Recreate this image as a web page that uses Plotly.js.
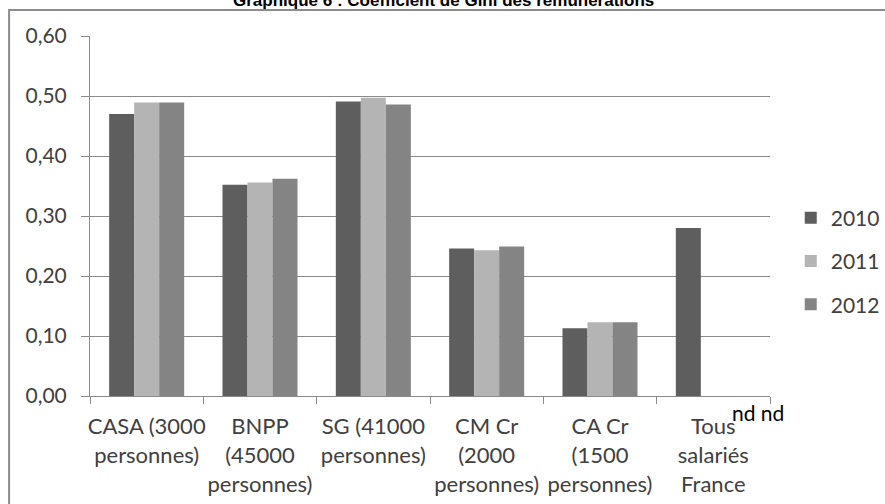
<!DOCTYPE html>
<html>
<head>
<meta charset="utf-8">
<script src="https://cdn.plot.ly/plotly-3.0.1.min.js"></script>
<style>
  html, body { margin: 0; padding: 0; background: #ffffff; }
  #chart { width: 885px; height: 504px; }
</style>
</head>
<body>
<div id="chart"></div>
<script>
// Gini coefficient of pay, by group and year
const categories = [
  "CASA (3000<br>personnes)",
  "BNPP<br>(45000<br>personnes)",
  "SG (41000<br>personnes)",
  "CM Cr<br>(2000<br>personnes)",
  "CA Cr<br>(1500<br>personnes)",
  "Tous<br>salariés<br>France"
];
const years = ["2010", "2011", "2012"];
const gini2010 = [0.470, 0.352, 0.491, 0.246, 0.113, 0.280];
const gini2011 = [0.489, 0.356, 0.497, 0.243, 0.123, null];
const gini2012 = [0.489, 0.362, 0.486, 0.249, 0.123, null];
const yTicks = [0, 0.1, 0.2, 0.3, 0.4, 0.5, 0.6];

const barColors = ["#5e5e5e", "#b4b4b4", "#848484"];
const series = [gini2010, gini2011, gini2012];

const labelFont = { family: "Lato, 'Open Sans', sans-serif", size: 21, color: "#404040" };
const catFont = { family: "Lato, 'Open Sans', sans-serif", size: 22, color: "#404040" };
const lineGrey = "#8a8a8a";

const traces = series.map((vals, i) => ({
  type: "bar",
  name: years[i],
  x: categories,
  y: vals,
  legendgroup: "g" + i,
  marker: { color: barColors[i], line: { width: 0 } },
  hoverinfo: "x+y+name"
}));

const layout = {
  width: 885,
  height: 504,
  margin: { l: 90, r: 115, t: 36, b: 108, pad: 0, autoexpand: false },
  paper_bgcolor: "#ffffff",
  plot_bgcolor: "#ffffff",
  separators: ", ",
  barmode: "group",
  bargap: 0.338,
  bargroupgap: 0,
  showlegend: true,
  legend: {
    xref: "container", yref: "container",
    x: 0.8935, xanchor: "left",
    y: 0.608, yanchor: "top",
    font: labelFont,
    traceorder: "grouped",
    tracegroupgap: 13,
    bgcolor: "rgba(0,0,0,0)"
  },
  xaxis: {
    type: "category",
    showline: true,
    linecolor: lineGrey,
    linewidth: 1,
    ticks: "outside",
    tickson: "boundaries",
    ticklen: 7,
    tickcolor: lineGrey,
    showgrid: false,
    tickangle: 0,
    tickfont: catFont,
    ticklabelstandoff: 11,
    automargin: false,
    fixedrange: true
  },
  yaxis: {
    range: [0, 0.6],
    tickvals: yTicks,
    tickformat: ".2f",
    showline: true,
    linecolor: lineGrey,
    linewidth: 1,
    ticks: "outside",
    ticklen: 8,
    tickcolor: lineGrey,
    showgrid: true,
    gridcolor: lineGrey,
    gridwidth: 1,
    zeroline: false,
    tickfont: labelFont,
    ticklabelstandoff: 10,
    automargin: false,
    fixedrange: true
  },
  shapes: [
    {
      type: "rect", xref: "paper", yref: "paper",
      x0: -0.119, x1: 2, y0: -1, y1: 1.0722,
      line: { color: "#8c8c8c", width: 2 },
      fillcolor: "rgba(0,0,0,0)",
      layer: "above"
    }
  ],
  annotations: [
    {
      text: "<b>Graphique 6 : Coefficient de Gini des rémunérations</b>",
      xref: "paper", yref: "paper",
      x: 0.52, y: 1.066,
      xanchor: "center", yanchor: "bottom",
      showarrow: false,
      font: { family: "'Liberation Sans', Arial, sans-serif", size: 17, color: "#000000" }
    },
    {
      text: "nd nd",
      xref: "paper", yref: "paper",
      x: 0.982, y: -0.047,
      xanchor: "center", yanchor: "middle",
      showarrow: false,
      font: { family: "Lato, 'Open Sans', sans-serif", size: 21, color: "#000000" }
    }
  ]
};

Plotly.newPlot("chart", traces, layout, { displayModeBar: false, staticPlot: true });
</script>
</body>
</html>
